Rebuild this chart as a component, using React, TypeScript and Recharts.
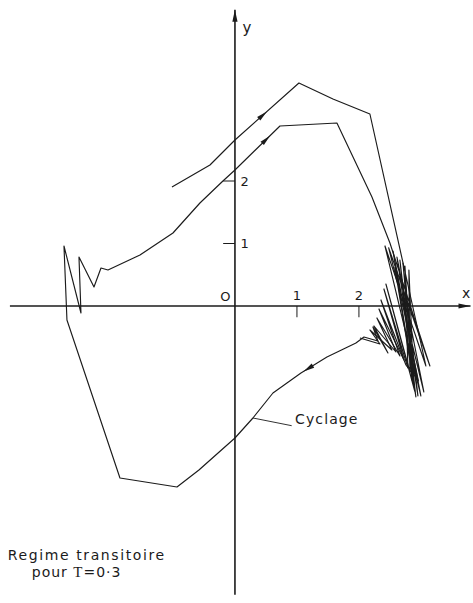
import { LineChart, Line, XAxis, YAxis, ReferenceLine, ReferenceDot } from "recharts";

// Phase-plane trajectory (x, y) in drawing order.
// Transient: starts top-left, climbs, drops into the oscillating zone near x≈2.5.
const transientPath: [number, number][] = [
  [-1.016, 1.904], [-0.403, 2.256], [0, 2.656], [1.032, 3.568], [1.581, 3.312],
  [2.177, 3.072], [3.081, -0.96], [2.42, 0.96], [3.0, -1.44], [2.55, 0.88],
  [2.919, -1.456], [2.661, 0.736], [2.855, -1.184], [2.742, 0.64], [2.79, -0.992],
  [2.403, 0.272], [2.726, -0.864], [2.323, -0.048], [2.597, -0.736], [2.242, -0.32],
  [2.468, -0.752], [2.226, -0.336], [2.306, -0.56], [2.081, -0.496], [1.952, -0.592]
];

// Limit cycle: lower branch, left jumps, rising branch, back into the zone.
const cyclePath: [number, number][] = [
  [1.952, -0.592], [1.484, -0.816], [1.065, -1.072], [0.613, -1.392], [0.29, -1.792],
  [0, -2.112], [-0.581, -2.624], [-0.935, -2.896], [-1.855, -2.752], [-2.71, -0.224],
  [-2.758, 0.96], [-2.484, -0.112], [-2.516, 0.784], [-2.274, 0.304], [-2.161, 0.608],
  [-2.048, 0.576], [-1.532, 0.816], [-1.0, 1.168], [-0.565, 1.648], [-0.194, 2.0],
  [0, 2.176], [0.726, 2.88], [1.645, 2.928], [2.21, 1.744], [2.5, 1.008],
  [3.145, -0.96], [2.48, 0.93], [3.048, -1.376], [2.613, 0.784], [2.952, -1.44],
  [2.71, 0.688], [2.887, -1.28], [2.806, 0.576], [2.823, -1.056], [2.435, 0.352],
  [2.9, -1.36], [2.58, 0.62], [2.96, -1.2],
  [2.758, -0.944], [2.355, 0.096], [2.661, -0.8], [2.29, -0.192], [2.532, -0.704],
  [2.177, -0.384], [2.339, -0.608], [2.016, -0.512]
];

const xTicks = [1, 2];
const xTickLabels = ["1", "2"];
const yTicks = [1, 2];
const yTickLabels = ["1", "2"];

// direction arrows: segment index on a path + fraction along it
const flowMarks = [
  { path: transientPath, i: 2, t: 0.5 },
  { path: cyclePath, i: 20, t: 0.78 },
  { path: cyclePath, i: 1, t: 0.9 }
];

const X_DOMAIN: [number, number] = [-3.79, 3.84];
const Y_DOMAIN: [number, number] = [-4.752, 4.896];
const INK = "#1b1b1b";
const FONT = "'DejaVu Sans', sans-serif";

const toRows = (pts: [number, number][]) => pts.map(([x, y]) => ({ x, y }));

function headPoints(tx: number, ty: number, ux: number, uy: number, len: number, half: number) {
  const bx = tx - ux * len;
  const by = ty - uy * len;
  return `${tx},${ty} ${bx - uy * half},${by + ux * half} ${bx + uy * half},${by - ux * half}`;
}

function AxisWithArrow(props: any) {
  const { x1, y1, x2, y2 } = props;
  const len = Math.hypot(x2 - x1, y2 - y1) || 1;
  const ux = (x2 - x1) / len;
  const uy = (y2 - y1) / len;
  return (
    <g>
      <line x1={x1} y1={y1} x2={x2} y2={y2} stroke={INK} strokeWidth={1.6} />
      <polygon points={headPoints(x2, y2, ux, uy, 12, 2.6)} fill={INK} />
    </g>
  );
}

const flowArrow = (t: number) => (props: any) => {
  const { x1, y1, x2, y2 } = props;
  const len = Math.hypot(x2 - x1, y2 - y1) || 1;
  const ux = (x2 - x1) / len;
  const uy = (y2 - y1) / len;
  const tx = x1 + (x2 - x1) * t;
  const ty = y1 + (y2 - y1) * t;
  return <polygon points={headPoints(tx, ty, ux, uy, 11, 2.4)} fill={INK} />;
};

const textAt =
  (text: string, anchor: "start" | "middle" | "end", size: number, spacing = 0) =>
  (props: any) => {
    const { x, y } = props.viewBox;
    return (
      <text
        x={x}
        y={y}
        textAnchor={anchor}
        dominantBaseline="central"
        fontFamily={FONT}
        fontSize={size}
        letterSpacing={spacing}
        fill={INK}
      >
        {text}
      </text>
    );
  };

const noteAt = (props: any) => {
  const { x, y } = props.viewBox;
  return (
    <g fontFamily={FONT} fontSize={14} fill={INK}>
      <text x={x} y={y} textAnchor="middle" letterSpacing={1.6}>
        Regime transitoire
      </text>
      <text x={x - 55} y={y + 17} textAnchor="start" letterSpacing={1}>
        pour <tspan fontFamily="'Liberation Serif', serif" fontSize={15}>T</tspan>=0·3
      </text>
    </g>
  );
};

const pathStyle = {
  type: "linear" as const,
  stroke: INK,
  strokeWidth: 1.15,
  strokeLinejoin: "round" as const,
  dot: false,
  activeDot: false,
  isAnimationActive: false
};

export default function App() {
  return (
    <div style={{ position: "absolute", left: 0, top: 0, width: 473, height: 603, background: "#fff" }}>
      <LineChart width={473} height={603} margin={{ top: 0, right: 0, bottom: 0, left: 0 }}>
        <XAxis type="number" dataKey="x" domain={X_DOMAIN} allowDataOverflow hide />
        <YAxis type="number" dataKey="y" domain={Y_DOMAIN} allowDataOverflow hide />

        {/* axes through the origin */}
        <ReferenceLine segment={[{ x: -3.63, y: 0 }, { x: 3.8, y: 0 }]} shape={AxisWithArrow} />
        <ReferenceLine segment={[{ x: 0, y: -4.62 }, { x: 0, y: 4.74 }]} shape={AxisWithArrow} />

        {xTicks.map((v) => (
          <ReferenceLine key={`xt${v}`} segment={[{ x: v, y: 0 }, { x: v, y: -0.18 }]} stroke={INK} strokeWidth={1} />
        ))}
        {yTicks.map((v) => (
          <ReferenceLine key={`yt${v}`} segment={[{ x: -0.19, y: v }, { x: 0, y: v }]} stroke={INK} strokeWidth={1} />
        ))}
        {xTicks.map((v, i) => (
          <ReferenceDot key={`xl${v}`} x={v} y={0.17} r={0} stroke="none" label={{ content: textAt(xTickLabels[i], "middle", 13) }} />
        ))}
        {yTicks.map((v, i) => (
          <ReferenceDot key={`yl${v}`} x={0.09} y={v} r={0} stroke="none" label={{ content: textAt(yTickLabels[i], "start", 13) }} />
        ))}
        <ReferenceDot x={-0.155} y={0.15} r={0} stroke="none" label={{ content: textAt("O", "middle", 13) }} />
        <ReferenceDot x={3.73} y={0.21} r={0} stroke="none" label={{ content: textAt("x", "middle", 14) }} />
        <ReferenceDot x={0.12} y={4.45} r={0} stroke="none" label={{ content: textAt("y", "start", 15) }} />

        <Line data={toRows(transientPath)} dataKey="y" {...pathStyle} />
        <Line data={toRows(cyclePath)} dataKey="y" {...pathStyle} />

        {flowMarks.map((m, k) => (
          <ReferenceLine
            key={`fa${k}`}
            segment={[
              { x: m.path[m.i][0], y: m.path[m.i][1] },
              { x: m.path[m.i + 1][0], y: m.path[m.i + 1][1] }
            ]}
            shape={flowArrow(m.t)}
          />
        ))}

        {/* leader line for the cycle label */}
        <ReferenceLine segment={[{ x: 0.29, y: -1.792 }, { x: 0.915, y: -1.915 }]} stroke={INK} strokeWidth={0.9} />
        <ReferenceDot x={0.97} y={-1.81} r={0} stroke="none" label={{ content: textAt("Cyclage", "start", 14, 1.1) }} />

        <ReferenceDot x={-2.39} y={-4.06} r={0} stroke="none" label={{ content: noteAt }} />
      </LineChart>
    </div>
  );
}
